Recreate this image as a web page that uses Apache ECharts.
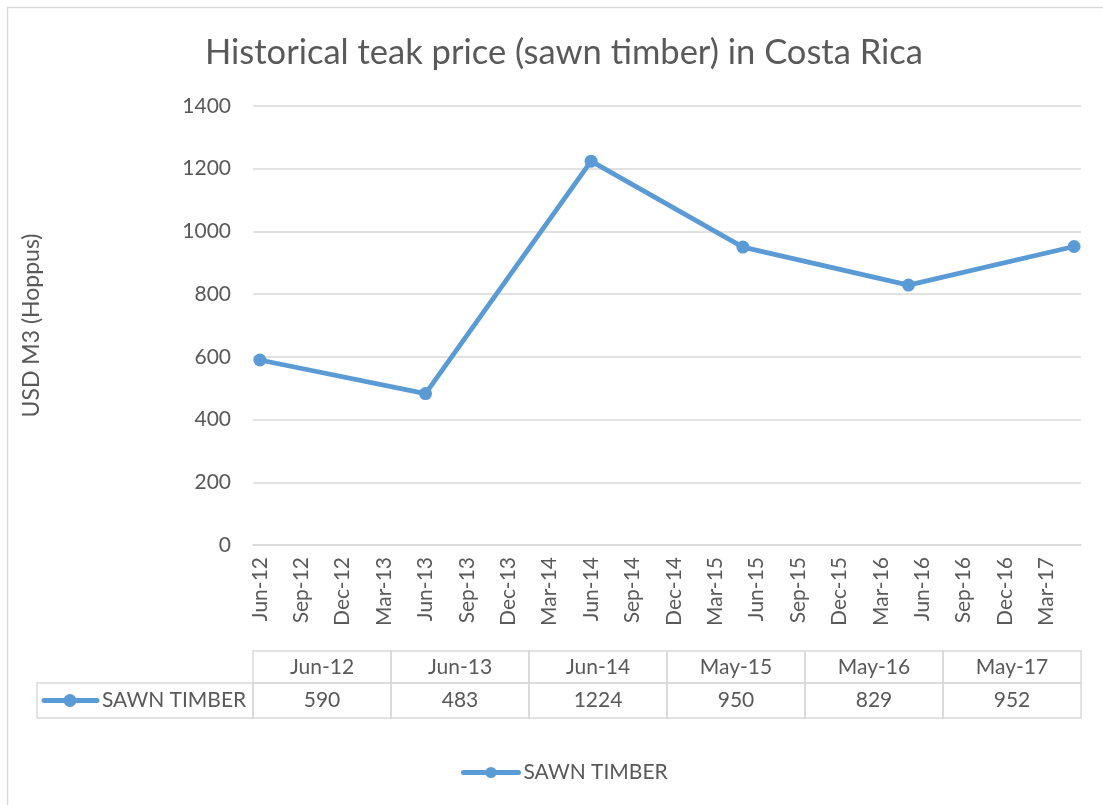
<!DOCTYPE html>
<html>
<head>
<meta charset="utf-8">
<script src="https://cdn.jsdelivr.net/npm/echarts@6/dist/echarts.min.js"></script>
<style>
  html, body { margin: 0; padding: 0; background: #fff; }
  #main { width: 1103px; height: 805px; }
</style>
</head>
<body>
<div id="main"></div>
<script>
// month slots of the date axis (Excel base unit = month)
const months = [
  'Jun-12','Jul-12','Aug-12','Sep-12','Oct-12','Nov-12','Dec-12','Jan-13','Feb-13','Mar-13',
  'Apr-13','May-13','Jun-13','Jul-13','Aug-13','Sep-13','Oct-13','Nov-13','Dec-13','Jan-14',
  'Feb-14','Mar-14','Apr-14','May-14','Jun-14','Jul-14','Aug-14','Sep-14','Oct-14','Nov-14',
  'Dec-14','Jan-15','Feb-15','Mar-15','Apr-15','May-15','Jun-15','Jul-15','Aug-15','Sep-15',
  'Oct-15','Nov-15','Dec-15','Jan-16','Feb-16','Mar-16','Apr-16','May-16','Jun-16','Jul-16',
  'Aug-16','Sep-16','Oct-16','Nov-16','Dec-16','Jan-17','Feb-17','Mar-17','Apr-17','May-17'
];
const dates = ['Jun-12', 'Jun-13', 'Jun-14', 'May-15', 'May-16', 'May-17'];
const sawnTimber = [590, 483, 1224, 950, 829, 952];
const yTicks = [0, 200, 400, 600, 800, 1000, 1200, 1400];

const seriesName = 'SAWN TIMBER';
const blue = '#5B9BD5';
const textColor = '#595959';
const gridColor = '#d9d9d9';
const font = 'Lato, "Open Sans", sans-serif';

const W = 1103;
const grid = { left: 253, right: 22, top: 106, bottom: 260 };
const plotW = W - grid.left - grid.right;
const colW = plotW / dates.length;

// data table under the axis
const tableTop = 651, headH = 32, rowH = 35;
const table = [];
dates.forEach((d, i) => {
  const x = grid.left + i * colW;
  table.push({ type: 'rect', shape: { x: x, y: tableTop, width: colW, height: headH },
    style: { fill: 'none', stroke: gridColor, lineWidth: 1.5 } });
  table.push({ type: 'rect', shape: { x: x, y: tableTop + headH, width: colW, height: rowH },
    style: { fill: 'none', stroke: gridColor, lineWidth: 1.5 } });
  table.push({ type: 'text', x: x + colW / 2, y: tableTop + headH / 2,
    style: { text: d, fill: textColor, font: '21px ' + font, align: 'center', verticalAlign: 'middle' } });
  table.push({ type: 'text', x: x + colW / 2, y: tableTop + headH + rowH / 2,
    style: { text: String(sawnTimber[i]), fill: textColor, font: '21px ' + font, align: 'center', verticalAlign: 'middle' } });
});
const rowMid = tableTop + headH + rowH / 2;
table.push({ type: 'rect', shape: { x: 37, y: tableTop + headH, width: grid.left - 37, height: rowH },
  style: { fill: 'none', stroke: gridColor, lineWidth: 1.5 } });
table.push({ type: 'line', shape: { x1: 44, y1: rowMid, x2: 97, y2: rowMid },
  style: { stroke: blue, lineWidth: 5, lineCap: 'round' } });
table.push({ type: 'circle', shape: { cx: 70, cy: rowMid, r: 6.5 }, style: { fill: blue } });
table.push({ type: 'text', x: 102, y: rowMid,
  style: { text: seriesName, fill: textColor, font: '21px ' + font, verticalAlign: 'middle' } });

const chart = echarts.init(document.getElementById('main'));
chart.setOption({
  animation: false,
  backgroundColor: '#fff',
  title: {
    text: 'Historical teak price (sawn timber) in Costa Rica',
    left: 200, top: 30,
    textStyle: { color: textColor, fontSize: 34.5, fontWeight: 'normal', fontFamily: font }
  },
  grid: grid,
  legend: {
    bottom: 17, left: 456,
    itemWidth: 55, itemHeight: 14, itemGap: 5,
    lineStyle: { width: 5, cap: 'round' },
    textStyle: { color: textColor, fontSize: 21, fontFamily: font },
    data: [seriesName]
  },
  xAxis: {
    type: 'category',
    data: months,
    boundaryGap: true,
    axisLine: { lineStyle: { color: gridColor, width: 1.5 } },
    axisTick: { show: false },
    axisLabel: { interval: 2, rotate: 90, margin: 12, color: textColor, fontSize: 21, fontFamily: font }
  },
  yAxis: {
    type: 'value',
    min: yTicks[0], max: yTicks[yTicks.length - 1], interval: 200,
    name: 'USD M3 (Hoppus)',
    nameLocation: 'middle', nameGap: 210, nameRotate: 90,
    nameTextStyle: { color: textColor, fontSize: 23, fontFamily: font },
    axisLine: { show: false },
    axisTick: { show: false },
    axisLabel: { margin: 22, color: textColor, fontSize: 21, fontFamily: font, formatter: v => String(v) },
    splitLine: { lineStyle: { color: gridColor, width: 1.5 } }
  },
  series: [{
    name: seriesName,
    type: 'line',
    data: dates.map((d, i) => [d, sawnTimber[i]]),
    symbol: 'circle', symbolSize: 13,
    showAllSymbol: true,
    itemStyle: { color: blue },
    lineStyle: { color: blue, width: 4.8 }
  }],
  graphic: [
    { type: 'rect', shape: { x: 7.5, y: 7.5, width: 1200, height: 900 },
      style: { fill: 'none', stroke: gridColor, lineWidth: 1.5 }, z: 0 }
  ].concat(table)
});
</script>
</body>
</html>
